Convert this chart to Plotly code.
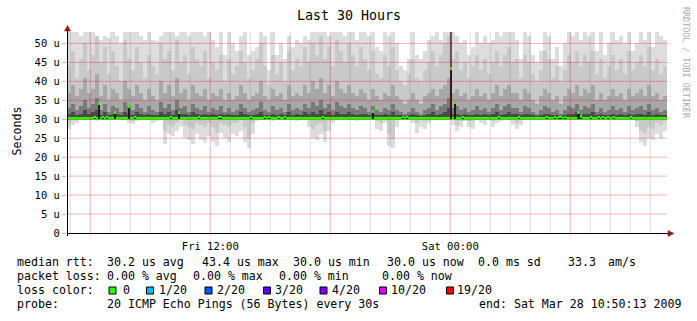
import plotly.graph_objects as go
import pandas as pd

# ---------------- data ----------------
START = "2009-03-27 04:50:13"
END = "2009-03-28 10:50:13"
STEP_MIN = 12          # one smoke column = 12 minutes
SMOKE_FLOOR = 30.0     # min rtt (us)
MEDIAN_BASE = 30.15    # median rtt level (us)

y_tickvals = [0, 5, 10, 15, 20, 25, 30, 35, 40, 45, 50]
y_ticktext = ["0", "5 u", "10 u", "15 u", "20 u", "25 u", "30 u", "35 u", "40 u", "45 u", "50 u"]
x_tickvals = ["2009-03-27 12:00:00", "2009-03-28 00:00:00"]
x_ticktext = ["Fri 12:00", "Sat 00:00"]

# outermost (lightest) smoke band top, us
light_top = [
    53, 53, 53, 52, 53, 53, 53, 52, 51, 52,
    51.5, 53, 52, 50, 53, 53, 53, 53, 52, 51,
    53, 51, 50.5, 52, 53, 53, 53, 52, 53, 53,
    52, 53, 53, 53, 52, 53, 51, 49, 53, 47,
    53, 50, 48, 52, 53, 47, 48, 49, 53, 52,
    43, 53, 47, 50, 46, 52, 49, 51, 50, 52,
    51, 53, 53, 53, 53, 52, 53, 53, 53, 52,
    53, 53, 51, 53, 53, 52, 53, 49, 48, 53,
    52, 53, 50, 44, 43, 46, 53, 47, 46, 48,
    51, 52, 53, 51, 53, 53, 53, 52, 50, 51,
    47, 49, 53, 50, 52, 50, 51, 53, 52, 53,
    53, 53, 51, 46, 53, 52, 47, 45, 48, 53,
    52, 46, 49, 44, 50, 53, 52, 53, 51, 53,
    52, 53, 48, 53, 47, 50, 53, 51, 52, 50,
    53, 48, 50, 53, 51, 53, 49, 53, 52, 51,
]
# outermost band bottom (below the median), us
light_bottom = [
    27.5, 28.5, 29, 30, 30, 30, 30, 29.5, 30, 30,
    30, 30, 30, 30, 30, 29, 28.8, 29.5, 29.8, 30,
    30, 29, 29.5, 30, 23.5, 26, 25.5, 27, 28, 25,
    24.5, 23.5, 26, 24.5, 24, 25.5, 24, 23, 26.5, 25,
    24, 26, 25.5, 27, 24, 22.5, 26, 29.5, 30, 30,
    30, 29.5, 30, 30, 30, 30, 30, 29.5, 30, 30,
    28, 25, 24.5, 26, 24, 27, 29, 30, 30, 30,
    30, 30, 29.5, 30, 30, 30, 30, 27.5, 27, 29,
    23, 22.5, 28, 30, 30, 30, 29, 26.5, 28, 27.5,
    29, 30, 30, 30, 30, 30, 28.5, 27, 28, 29.5,
    28, 27.5, 30, 29, 28.5, 30, 28, 29, 29.5, 30,
    30, 28.5, 27.5, 28.5, 30, 30, 30, 30, 30, 30,
    30, 30, 30, 30, 30, 30, 30, 30, 30, 30,
    30, 30, 30, 30, 30, 30, 30, 30, 30, 30,
    30, 30, 28, 24, 23, 25, 24.5, 26, 25, 27,
]
# second band
pale_top = [
    44, 48, 41, 46, 50, 43, 47, 52, 45, 49,
    42, 48, 44, 40, 51, 46, 43, 49, 45, 41,
    47, 44, 42, 50, 46, 48, 43, 51, 45, 47,
    42, 49, 46, 44, 48, 41, 45, 43, 47, 40,
    46, 42, 44, 48, 45, 41, 43, 46, 50, 44,
    39, 47, 42, 45, 40, 48, 43, 46, 44, 49,
    45, 50, 47, 52, 46, 49, 44, 51, 48, 45,
    50, 47, 44, 49, 46, 43, 48, 42, 41, 47,
    44, 49, 43, 40, 39, 42, 46, 41, 40, 43,
    45, 48, 44, 47, 50, 52, 46, 48, 43, 45,
    41, 44, 47, 43, 46, 42, 45, 48, 44, 47,
    49, 45, 46, 41, 47, 45, 42, 40, 43, 48,
    46, 41, 44, 40, 43, 47, 45, 48, 44, 47,
    45, 48, 42, 46, 41, 44, 47, 43, 46, 42,
    48, 43, 45, 47, 44, 49, 43, 46, 42, 44,
]
pale_bottom = [
    29, 30, 30, 30, 30, 30, 30, 30, 30, 30,
    30, 30, 30, 30, 30, 30, 29.5, 30, 30, 30,
    30, 30, 30, 30, 27, 28.5, 28, 29, 30, 28.5,
    28, 27.5, 29, 28.5, 28, 29, 28, 26.5, 29, 28.5,
    28, 29, 29, 30, 28, 25, 29, 30, 30, 30,
    30, 30, 30, 30, 30, 30, 30, 30, 30, 30,
    30, 27.5, 28.5, 29, 27, 29.5, 30, 30, 30, 30,
    30, 30, 30, 30, 30, 30, 30, 29.5, 29, 30,
    26, 25, 30, 30, 30, 30, 30, 29, 30, 29.5,
    30, 30, 30, 30, 30, 30, 30, 28.5, 29.5, 30,
    29.5, 29.5, 30, 30, 30, 30, 29.5, 30, 30, 30,
    30, 30, 29, 30, 30, 30, 30, 30, 30, 30,
    30, 30, 30, 30, 30, 30, 30, 30, 30, 30,
    30, 30, 30, 30, 30, 30, 30, 30, 30, 30,
    30, 30, 29.5, 27, 26.5, 28, 27.5, 29, 28.5, 29.5,
]
# middle band top
mid_top = [
    37, 39, 36, 38, 41, 37, 38, 42, 36, 39,
    35, 38, 37, 35, 40, 38, 36, 39, 37, 35,
    38, 36, 35, 40, 37, 39, 36, 41, 37, 38,
    35, 39, 37, 36, 38, 35, 37, 36, 38, 35,
    37, 35, 36, 39, 37, 35, 36, 37, 40, 36,
    35, 38, 36, 37, 35, 39, 36, 37, 36, 39,
    37, 40, 38, 41, 37, 39, 36, 40, 38, 37,
    39, 37, 36, 38, 37, 35, 38, 36, 35, 37,
    36, 39, 36, 35, 34, 35, 37, 35, 34, 36,
    37, 38, 36, 38, 39, 41, 37, 38, 36, 37,
    35, 36, 38, 36, 37, 35, 37, 39, 36, 38,
    39, 37, 37, 35, 38, 37, 35, 34, 36, 38,
    37, 35, 36, 34, 36, 38, 37, 39, 36, 38,
    37, 39, 35, 37, 35, 36, 38, 36, 37, 35,
    38, 36, 37, 38, 36, 39, 36, 37, 35, 36,
]
# dark band top
dark_top = [
    33, 34, 32.5, 33.5, 35, 33, 34, 35.5, 32.5, 34,
    32, 33.5, 33, 32, 34.5, 33.5, 32.5, 34, 33, 32,
    33.5, 32.5, 32, 34.5, 33, 34, 32.5, 35, 33, 33.5,
    32, 34, 33, 32.5, 33.5, 32, 33, 32.5, 33.5, 32,
    33, 32, 32.5, 34, 33, 32, 32.5, 33, 34.5, 32.5,
    32, 33.5, 32.5, 33, 32, 34, 32.5, 33, 32.5, 34,
    33, 34.5, 33.5, 35, 33, 34, 32.5, 34.5, 33.5, 33,
    34, 33, 32.5, 33.5, 33, 32, 33.5, 32.5, 32, 33,
    32.5, 34, 32.5, 32, 31.5, 32, 33, 32, 31.5, 32.5,
    33, 34, 32.5, 33.5, 34, 35.5, 33, 33.5, 32.5, 33,
    32, 32.5, 33.5, 32.5, 33, 32, 33, 34, 32.5, 33.5,
    34, 33, 33, 32, 33.5, 33, 32, 31.5, 32.5, 33.5,
    33, 32, 32.5, 31.5, 32.5, 33.5, 33, 34, 32.5, 33.5,
    33, 34, 32, 33, 32, 32.5, 33.5, 32.5, 33, 32,
    33.5, 32.5, 33, 33.5, 32.5, 34, 32.5, 33, 32, 32.5,
]
# innermost band top
core_top = [
    31.5, 32, 31, 31.5, 32.5, 31.5, 32, 32.5, 31, 32,
    31, 31.5, 31.5, 31, 32, 31.5, 31, 32, 31.5, 31,
    31.5, 31, 31, 32, 31.5, 32, 31, 32.5, 31.5, 31.5,
    31, 32, 31.5, 31, 31.5, 31, 31.5, 31, 31.5, 31,
    31.5, 31, 31, 32, 31.5, 31, 31, 31.5, 32, 31,
    31, 31.5, 31, 31.5, 31, 32, 31, 31.5, 31, 32,
    31.5, 32, 31.5, 32.5, 31.5, 32, 31, 32, 31.5, 31.5,
    32, 31.5, 31, 31.5, 31.5, 31, 31.5, 31, 31, 31.5,
    31, 32, 31, 31, 30.8, 31, 31.5, 31, 30.8, 31,
    31.5, 32, 31, 31.5, 32, 33, 31.5, 31.5, 31, 31.5,
    31, 31, 31.5, 31, 31.5, 31, 31.5, 32, 31, 31.5,
    32, 31.5, 31.5, 31, 31.5, 31.5, 31, 30.8, 31, 31.5,
    31.5, 31, 31, 30.8, 31, 31.5, 31.5, 32, 31, 31.5,
    31.5, 32, 31, 31.5, 31, 31, 31.5, 31, 31.5, 31,
    31.5, 31, 31.5, 31.5, 31, 32, 31, 31.5, 31, 31,
]

# median samples that rise above the base median line
spike_times = [
    "2009-03-27 06:14", "2009-03-27 06:26", "2009-03-27 06:38", "2009-03-27 06:50",
    "2009-03-27 07:14", "2009-03-27 07:56", "2009-03-27 08:14", "2009-03-27 10:02",
    "2009-03-27 10:26", "2009-03-27 11:26", "2009-03-27 12:26", "2009-03-27 12:32",
    "2009-03-27 14:02", "2009-03-27 14:44", "2009-03-27 14:56", "2009-03-27 15:26",
    "2009-03-27 15:44", "2009-03-27 17:38", "2009-03-27 20:07", "2009-03-27 21:38",
    "2009-03-27 21:50", "2009-03-28 00:02", "2009-03-28 00:14", "2009-03-28 00:38",
    "2009-03-28 02:26", "2009-03-28 03:26", "2009-03-28 04:50", "2009-03-28 05:14",
    "2009-03-28 05:26", "2009-03-28 05:32", "2009-03-28 05:44", "2009-03-28 06:26",
    "2009-03-28 06:32", "2009-03-28 07:02", "2009-03-28 07:26", "2009-03-28 07:38",
    "2009-03-28 07:53", "2009-03-28 08:11", "2009-03-28 09:02",
]
spike_vals = [
    30.6, 34.2, 30.6, 30.6, 31.8, 33.4, 30.6, 30.6, 31.8, 30.6,
    30.6, 30.6, 30.6, 30.6, 30.6, 30.6, 30.6, 30.6, 32.0, 30.6,
    30.6, 43.4, 34.3, 30.6, 30.6, 30.6, 30.6, 30.6, 30.6, 30.6,
    30.6, 31.8, 30.8, 30.6, 30.6, 30.6, 30.6, 30.6, 30.6,
]
# sample where the whole smoke column is dark up to the top
dark_col_times = ["2009-03-28 00:02"]
dark_col_tops = [53]

for arr in (light_top, light_bottom, pale_top, pale_bottom, mid_top, dark_top, core_top):
    assert len(arr) == 150, len(arr)
assert len(spike_times) == len(spike_vals)

# ---------------- figure ----------------
FONT = "DejaVu Sans Mono"
W, H = 697, 321
ML, MR, MT, MB = 67, 30, 32, 88
PW, PH = W - ML - MR, H - MT - MB


def px(x):
    return (x - ML) / PW


def py(y):
    return (H - MB - y) / PH


times = pd.date_range(START, periods=len(light_top), freq=f"{STEP_MIN}min") + pd.Timedelta(minutes=STEP_MIN / 2)
col_ms = STEP_MIN * 60 * 1000
spike_ms = 6 * 60 * 1000

fig = go.Figure()


def band(bottom, top, color):
    if not isinstance(bottom, list):
        bottom = [bottom] * len(top)
    fig.add_trace(go.Bar(
        x=times, base=bottom, y=[t - b for t, b in zip(top, bottom)],
        width=col_ms, marker=dict(color=color, line=dict(width=0)),
        hoverinfo="skip", showlegend=False))


band(light_bottom, light_top, "#dddddd")
band(pale_bottom, pale_top, "#c9c9c9")
band(SMOKE_FLOOR, mid_top, "#a8a8a8")
band(SMOKE_FLOOR, dark_top, "#7a7a7a")
band(SMOKE_FLOOR, core_top, "#4a4a4a")

# dark full column
fig.add_trace(go.Bar(
    x=dark_col_times, base=[SMOKE_FLOOR] * len(dark_col_tops),
    y=[t - SMOKE_FLOOR for t in dark_col_tops], width=spike_ms,
    marker=dict(color="#5a5a5a", line=dict(width=0)), hoverinfo="skip", showlegend=False))

# median base line (green, 0 loss)
t0, t1 = pd.Timestamp(START), pd.Timestamp(END)
fig.add_trace(go.Bar(
    x=[t0 + (t1 - t0) / 2], base=[MEDIAN_BASE - 0.38], y=[0.76],
    width=(t1 - t0).total_seconds() * 1000,
    marker=dict(color="#22ff00", line=dict(width=0)), hoverinfo="skip", showlegend=False))

# stems under raised medians
fig.add_trace(go.Bar(
    x=spike_times, base=[SMOKE_FLOOR] * len(spike_vals), y=[v - SMOKE_FLOOR for v in spike_vals],
    width=spike_ms, marker=dict(color="#1c1c1c", line=dict(width=0)),
    hoverinfo="skip", showlegend=False))
# raised median dashes
fig.add_trace(go.Bar(
    x=spike_times, base=[v - 0.38 for v in spike_vals], y=[0.76] * len(spike_vals),
    width=spike_ms, marker=dict(color="#22ff00", line=dict(width=0)),
    hoverinfo="skip", showlegend=False))

shapes = []
# horizontal grid (above data)
for v in y_tickvals[1:]:
    shapes.append(dict(type="line", xref="paper", yref="y", x0=0, x1=1, y0=v, y1=v,
                       line=dict(color="rgba(230,0,0,0.30)", width=1), layer="above"))
# vertical grid
hours = pd.date_range(pd.Timestamp(START).ceil("h"), END, freq="h")
for h in hours:
    major = h.hour % 6 == 0
    shapes.append(dict(type="line", xref="x", yref="paper", x0=h, x1=h,
                       y0=py(236.5) if major else 0, y1=1,
                       line=dict(color="rgba(230,0,0,0.30)" if major else "rgba(120,120,120,0.25)", width=1),
                       layer="above"))
# axes with arrows
shapes.append(dict(type="line", xref="paper", yref="paper", x0=px(67.5), x1=px(668), y0=py(233.5), y1=py(233.5),
                   line=dict(color="black", width=1), layer="above"))
shapes.append(dict(type="line", xref="paper", yref="paper", x0=px(67.5), x1=px(67.5), y0=py(236), y1=py(31),
                   line=dict(color="black", width=1), layer="above"))
shapes.append(dict(type="path", xref="paper", yref="paper", layer="above",
                   path=f"M {px(668)},{py(230.5)} L {px(674)},{py(233.5)} L {px(668)},{py(236.5)} Z",
                   fillcolor="#a01010", line=dict(color="#a01010", width=0.5)))
shapes.append(dict(type="path", xref="paper", yref="paper", layer="above",
                   path=f"M {px(64.5)},{py(31)} L {px(67.5)},{py(25.5)} L {px(70.5)},{py(31)} Z",
                   fillcolor="#a01010", line=dict(color="#a01010", width=0.5)))

# legend
ann = []


def text(x, y, s, size=11.6, color="black", anchor="left", angle=0, yanchor="middle"):
    ann.append(dict(xref="paper", yref="paper", x=px(x), y=py(y), text=s.replace(" ", "\u00a0"),
                    showarrow=False, xanchor=anchor, yanchor=yanchor, textangle=angle, borderpad=0,
                    font=dict(family=FONT, size=size, color=color)))


ROW = [262, 276.3, 290.3, 304.3]
row1 = [(17.3, "median rtt:"), (107.3, "30.2 us avg"), (201.7, "43.4 us max"), (293.3, "30.0 us min"),
        (387.3, "30.0 us now"), (478.3, "0.0 ms sd"), (568.3, "33.3"), (608.3, "am/s")]
row2 = [(17.3, "packet loss:"), (107.3, "0.00 % avg"), (193.3, "0.00 % max"), (279.3, "0.00 % min"),
        (382.3, "0.00 % now")]
row4 = [(17.3, "probe:"), (107.3, "20 ICMP Echo Pings (56 Bytes) every 30s"),
        (479.3, "end: Sat Mar 28 10:50:13 2009")]
for r, row in ((0, row1), (1, row2), (3, row4)):
    for x, s in row:
        text(x - 1, ROW[r], s)
text(16.3, ROW[2], "loss color:")

loss_labels = ["0", "1/20", "2/20", "3/20", "4/20", "10/20", "19/20"]
loss_colors = ["#26ff00", "#00b8ff", "#0059ff", "#5e00ff", "#7e00ff", "#dd00ff", "#ff0000"]
box_x = [109, 146.5, 205, 263.5, 320, 379.5, 446.5]
label_dx = [13.5, 12, 11.5, 11.5, 11.5, 11.2, 10.8]
for lab, col, bx, dx in zip(loss_labels, loss_colors, box_x, label_dx):
    shapes.append(dict(type="rect", xref="paper", yref="paper", x0=px(bx), x1=px(bx + 7),
                       y0=py(294), y1=py(287), fillcolor=col, line=dict(color="black", width=1)))
    text(bx + dx - 1, ROW[2], lab)

# title, axis title, watermark
text(348.5, 15.5, "Last 30 Hours", size=13.3, anchor="center")
text(16, 130.5, "Seconds", size=11.6, anchor="center", angle=-90)
text(686, 63, "RRDTOOL / TOBI OETIKER", size=8.4, color="#aaaaaa", anchor="center", angle=90)

fig.update_layout(
    width=W, height=H, autosize=False,
    margin=dict(l=ML, r=MR, t=MT, b=MB, pad=0),
    paper_bgcolor="white", plot_bgcolor="white",
    barmode="overlay", bargap=0, showlegend=False,
    shapes=shapes, annotations=ann,
    xaxis=dict(type="date", range=[START, END], showgrid=False, zeroline=False, showline=False,
               tickvals=x_tickvals, ticktext=x_ticktext, ticks="outside", ticklen=3,
               tickcolor="rgba(0,0,0,0)",
               tickfont=dict(family=FONT, size=10.5, color="black"), fixedrange=True),
    yaxis=dict(range=[0, 53], showgrid=False, zeroline=False, showline=False,
               tickvals=y_tickvals, ticktext=y_ticktext, ticks="outside", ticklen=4,
               tickcolor="#f0b0b0", tickfont=dict(family=FONT, size=10.5, color="black"),
               fixedrange=True),
)

fig.write_html("out.html")
